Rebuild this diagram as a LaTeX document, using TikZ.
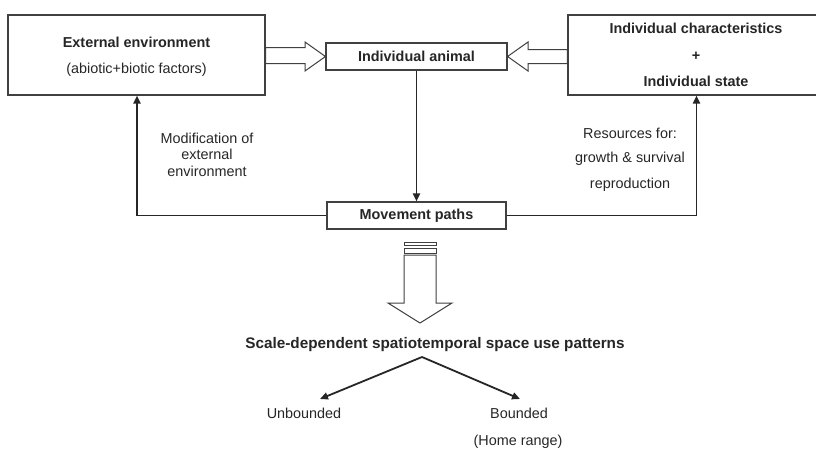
\documentclass[tikz,border=0pt]{standalone}
\usepackage{fontspec}
\setmainfont{Liberation Sans}
\usetikzlibrary{arrows.meta,calc}
\begin{document}
\begin{tikzpicture}[x=1pt,y=-1pt,
  txt/.style={font=\fontsize{14.4pt}{17pt}\selectfont, text=black!85, inner sep=0pt},
  bft/.style={font=\fontsize{14.4pt}{17pt}\selectfont\bfseries},
  bx/.style={draw=black!75, line width=1.1pt, fill=white, inner sep=0pt},
  conn/.style={draw=black!85, line width=1.8pt, -{Triangle[width=7pt,length=8pt]}},
  hollow/.style={draw=black!75, line width=1pt, fill=white, line join=miter}]
\useasboundingbox (0,0) rectangle (816,448);
% boxes
\node[bx, minimum width=257pt, minimum height=80pt] (ext) at (136.5,55) {};
\node[txt, bft] (extT) at (136.5,42) {External environment};
\node[txt] (extS) at (136.5,70) {(abiotic+biotic factors)};
\node[bx, minimum width=181pt, minimum height=27pt, txt, bft] (ind) at (416.5,56.5) {Individual animal};
\node[bx, minimum width=256pt, minimum height=80pt] (ich) at (696,55) {};
\node[txt, bft] (ich1) at (696,28) {Individual characteristics};
\node[txt, bft] (ich2) at (696,56) {+};
\node[txt, bft] (ich3) at (696,81) {Individual state};
\node[bx, minimum width=179pt, minimum height=27pt, txt, bft] (mov) at (416.5,215.5) {Movement paths};
% hollow arrows
\draw[hollow] (ext.east |- 0,47.5) -- (305,47.5) -- (305,42) -- (ind.west |- 0,56.5) -- (305,71) -- (305,63.5) -- (ext.east |- 0,63.5) -- cycle;
\draw[hollow] (ich.west |- 0,49.5) -- (528,49.5) -- (528,42) -- (ind.east |- 0,56.5) -- (528,71) -- (528,63.5) -- (ich.west |- 0,63.5) -- cycle;
% vertical connector
\draw[conn] (ind.south) -- (mov.north);
% feedback loops
\coordinate (lc) at (137,215.5);
\coordinate (rc) at (696.5,215.5);
\draw[conn] (mov.west) -- (lc) -- (ext.south -| lc);
\draw[conn] (mov.east) -- (rc) -- (ich.south -| rc);
\node[txt, align=center] (modT) at (207,154.5) {Modification of\\[-0.5pt]external\\[-0.5pt]environment};
\node[txt] (res1) at (630,133) {Resources for:};
\node[txt] (res2) at (630,159) {growth \& survival};
\node[txt] (res3) at (630,185) {reproduction};
% big down arrow
\draw[hollow] (404,242) rectangle (436,245);
\draw[hollow] (404,248) rectangle (436,253);
\draw[hollow] (404,255) -- (404,303) -- (388,303) -- (420,323) -- (452,303) -- (436,303) -- (436,255) -- cycle;
% bottom
\node[txt, font=\fontsize{15.3pt}{18pt}\selectfont\bfseries] (scale) at (435,345) {Scale-dependent spatiotemporal space use patterns};
\coordinate (fork) at (422,357);
\coordinate (uA) at (320,399);
\coordinate (bA) at (520,399);
\draw[conn] (fork) -- (uA);
\draw[conn] (fork) -- (bA);
\node[txt] (unb) at (304,413) {Unbounded};
\node[txt] (bnd) at (519,413) {Bounded};
\node[txt] (home) at (518,442) {(Home range)};
\end{tikzpicture}
\end{document}
